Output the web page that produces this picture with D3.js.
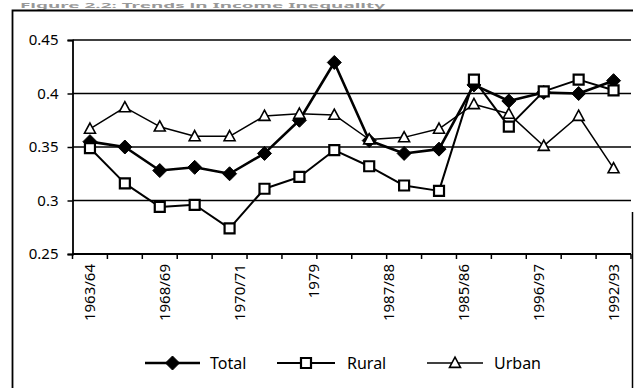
<!DOCTYPE html>
<html>
<head>
<meta charset="utf-8">
<script src="https://cdn.jsdelivr.net/npm/d3@7/dist/d3.min.js"></script>
<style>
  html, body { margin: 0; padding: 0; background: #fff; }
  svg { display: block; }
  text { font-family: "Noto Sans", "Open Sans", sans-serif; fill: #000; }
</style>
</head>
<body>
<svg id="chart" width="634" height="388"></svg>
<script>
// Survey rounds plotted along the horizontal axis (16 rounds)
const rounds = [1, 2, 3, 4, 5, 6, 7, 8, 9, 10, 11, 12, 13, 14, 15, 16];

// Labels printed under the axis, spread evenly from the first to the last round
const tickLabels = ["1963/64", "1968/69", "1970/71", "1979", "1987/88", "1985/86", "1996/97", "1992/93"];

// Gini coefficients
const total = [0.355, 0.350, 0.328, 0.331, 0.325, 0.344, 0.375, 0.429, 0.356, 0.344, 0.348, 0.408, 0.393, 0.401, 0.400, 0.412];
const rural = [0.349, 0.316, 0.294, 0.296, 0.274, 0.311, 0.322, 0.347, 0.332, 0.314, 0.309, 0.413, 0.369, 0.402, 0.413, 0.403];
const urban = [0.367, 0.387, 0.369, 0.360, 0.360, 0.379, 0.381, 0.380, 0.357, 0.359, 0.367, 0.390, 0.381, 0.351, 0.379, 0.330];

const yTicks = [0.25, 0.3, 0.35, 0.4, 0.45];

const svg = d3.select("#chart");

// Heading above the frame
svg.append("text")
  .attr("x", 20).attr("y", 8.2)
  .attr("textLength", 365).attr("lengthAdjust", "spacingAndGlyphs")
  .style("font-weight", "bold").style("font-size", "7.5px").style("fill", "#999")
  .text("Figure 2.2: Trends in Income Inequality");

// Outer frame of the chart
svg.append("path")
  .attr("d", "M12.5,388 V10.5 H633")
  .attr("fill", "none").attr("stroke", "#000").attr("stroke-width", 1.8);
svg.append("line")
  .attr("x1", 632.5).attr("x2", 632.5).attr("y1", 212).attr("y2", 388)
  .attr("stroke", "#000").attr("stroke-width", 1.5);

const plot = { left: 72.5, right: 631, top: 40, bottom: 254 };

const x = d3.scaleBand().domain(rounds).range([plot.left, plot.right]);
const cx = d => x(d) + x.bandwidth() / 2;
const y = d3.scaleLinear().domain([0.25, 0.45]).range([plot.bottom, plot.top]);
const xLab = d3.scalePoint().domain(tickLabels).range([cx(rounds[0]), cx(rounds[rounds.length - 1])]);

// Horizontal gridlines
svg.append("g").selectAll("line")
  .data(yTicks.filter(v => v > 0.25))
  .join("line")
  .attr("x1", plot.left).attr("x2", plot.right)
  .attr("y1", d => y(d)).attr("y2", d => y(d))
  .attr("stroke", "#000").attr("stroke-width", 1.5);

// Vertical axis
const yAxis = svg.append("g")
  .attr("transform", `translate(${plot.left},0)`)
  .call(d3.axisLeft(y).tickValues(yTicks).tickFormat(d => String(d)).tickSize(5).tickPadding(9));
yAxis.select(".domain").attr("stroke-width", 1.8);
yAxis.selectAll(".tick line").attr("stroke-width", 1.5);
yAxis.selectAll("text").style("font-size", "15px").attr("fill", "#000")
  .style("font-family", "\"Noto Sans\", sans-serif");

// Horizontal axis line with ticks at round boundaries
svg.append("line")
  .attr("x1", plot.left).attr("x2", plot.right)
  .attr("y1", plot.bottom).attr("y2", plot.bottom)
  .attr("stroke", "#000").attr("stroke-width", 2);
const bounds = rounds.map(d => x(d)).concat([plot.right]);
svg.append("g").selectAll("line")
  .data(bounds)
  .join("line")
  .attr("x1", d => d).attr("x2", d => d)
  .attr("y1", plot.bottom).attr("y2", plot.bottom + 5)
  .attr("stroke", "#000").attr("stroke-width", 1.5);

// Rotated labels
svg.append("g").selectAll("text")
  .data(tickLabels)
  .join("text")
  .attr("transform", d => `translate(${xLab(d) + 5},${plot.bottom + 10}) rotate(-90)`)
  .attr("text-anchor", "end")
  .style("font-size", "15px")
  .text(d => d);

// Marker shapes
const diamond = r => `M0,${-r}L${r},0L0,${r}L${-r},0Z`;
const square = r => `M${-r},${-r}H${r}V${r}H${-r}Z`;
const triangle = r => `M0,${-r * 1.05}L${r},${r * 0.8}L${-r},${r * 0.8}Z`;

const series = [
  { name: "Total", values: total, width: 2.6, shape: diamond(7), fill: "#000", mw: 1 },
  { name: "Rural", values: rural, width: 2, shape: square(5), fill: "#fff", mw: 2.2 },
  { name: "Urban", values: urban, width: 1.5, shape: triangle(5.5), fill: "#fff", mw: 1.6 }
];

const line = d3.line().x((v, i) => cx(rounds[i])).y(v => y(v));

series.forEach(s => {
  const g = svg.append("g");
  g.append("path")
    .attr("d", line(s.values))
    .attr("fill", "none").attr("stroke", "#000").attr("stroke-width", s.width)
    .attr("stroke-linejoin", "round");
  g.selectAll("path.mk")
    .data(s.values)
    .join("path")
    .attr("class", "mk")
    .attr("d", s.shape)
    .attr("transform", (v, i) => `translate(${cx(rounds[i])},${y(v)})`)
    .attr("fill", s.fill).attr("stroke", "#000").attr("stroke-width", s.mw);
});

// Legend
const legendY = 363;
const legendItems = [
  { s: series[0], x0: 145, x1: 200, tx: 210 },
  { s: series[1], x0: 277, x1: 335, tx: 347 },
  { s: series[2], x0: 427, x1: 483, tx: 494 }
];
legendItems.forEach(it => {
  const g = svg.append("g");
  g.append("line")
    .attr("x1", it.x0).attr("x2", it.x1).attr("y1", legendY).attr("y2", legendY)
    .attr("stroke", "#000").attr("stroke-width", it.s.width);
  g.append("path")
    .attr("d", it.s.shape)
    .attr("transform", `translate(${(it.x0 + it.x1) / 2},${legendY})`)
    .attr("fill", it.s.fill).attr("stroke", "#000").attr("stroke-width", it.s.mw);
  g.append("text")
    .attr("x", it.tx).attr("y", legendY + 6)
    .style("font-size", "16px")
    .text(it.s.name);
});
</script>
</body>
</html>
